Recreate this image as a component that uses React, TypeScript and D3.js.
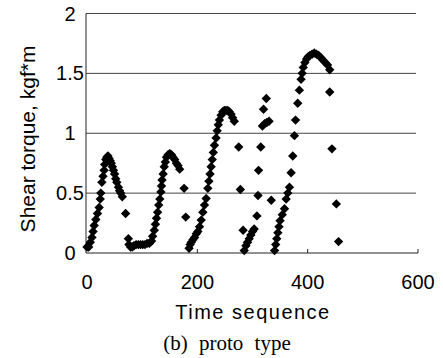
import React from 'react'
import { scaleLinear, symbol, symbolSquare } from 'd3'

// Shear torque samples (time index, kgf*m)
const time = [
  0, 3, 6, 9, 11, 13, 16, 19, 22, 24, 25, 27, 29, 31, 32, 34, 36, 38, 40, 42, 44, 46, 48, 50, 52, 54, 57, 59, 61, 64, 70,
  75, 76, 79, 82, 85, 89, 93, 97, 101, 105, 109, 113, 117,
  119, 122, 124, 126, 128, 130, 132, 134, 135, 136, 138, 140, 142, 144, 147, 150, 153, 156, 159, 162, 165, 168, 176, 179,
  185, 187, 189, 192, 195, 198, 201,
  204, 207, 210, 213, 216, 219, 221, 223, 225, 227, 229, 231, 234, 236, 238, 240, 243, 246, 249, 252, 255, 258, 261, 264, 267,
  275, 278, 283, 285, 288, 291, 294, 297, 300,
  303, 308, 310, 311, 315, 318, 322, 326, 330, 320, 325, 334,
  340, 342, 344, 346, 348, 350, 354, 358, 361, 364, 367, 370, 373, 376, 378, 382, 385, 388, 390, 392, 395, 398, 401, 404,
  408, 412, 416, 420, 424, 428, 432, 436, 440, 440, 444, 452, 456,
]
const torque = [
  0.05, 0.05, 0.09, 0.13, 0.18, 0.23, 0.28, 0.33, 0.38, 0.45, 0.5, 0.59, 0.64, 0.69, 0.74, 0.78, 0.8, 0.81, 0.79, 0.77, 0.75, 0.72, 0.69, 0.66, 0.62, 0.59, 0.55, 0.52, 0.5, 0.47, 0.33,
  0.12, 0.07, 0.05, 0.05, 0.06, 0.07, 0.07, 0.07, 0.07, 0.07, 0.08, 0.08, 0.1,
  0.14, 0.19, 0.24, 0.29, 0.34, 0.4, 0.45, 0.51, 0.56, 0.61, 0.66, 0.72, 0.76, 0.8, 0.82, 0.83, 0.82, 0.8, 0.78, 0.75, 0.73, 0.7, 0.54, 0.3,
  0.04, 0.07, 0.09, 0.11, 0.13, 0.16, 0.18,
  0.22, 0.275, 0.34, 0.4, 0.455, 0.54, 0.6, 0.66, 0.72, 0.78, 0.84, 0.9, 0.96, 1.02, 1.07, 1.11, 1.15, 1.18, 1.19, 1.19, 1.19, 1.18, 1.16, 1.13, 1.1,
  0.885, 0.53, 0.19, 0.02, 0.06, 0.09, 0.12, 0.15, 0.18,
  0.2, 0.31, 0.48, 0.69, 0.885, 1.06, 1.08, 1.09, 1.1, 1.2, 1.29, 0.44,
  0.02, 0.07, 0.12, 0.17, 0.22, 0.27, 0.32, 0.37, 0.45, 0.5, 0.55, 0.67, 0.81, 0.98, 1.11, 1.25, 1.36, 1.45, 1.5, 1.55, 1.59, 1.62, 1.64, 1.65,
  1.66, 1.67, 1.66, 1.65, 1.63, 1.61, 1.59, 1.57, 1.53, 1.345, 0.87, 0.41, 0.095,
]

const xTicks = [0, 200, 400, 600]
const yTicks = [0, 0.5, 1, 1.5, 2]
const yTickLabels = ['0', '0.5', '1', '1.5', '2']

const W = 443
const H = 358
const sans = '"Liberation Sans", Arial, sans-serif'

export default function App() {
  const x = scaleLinear().domain([0, 600]).range([87, 418])
  const y = scaleLinear().domain([0, 2]).range([253, 13.5])
  // square turned 45 degrees -> diamond marker
  const diamond = symbol(symbolSquare, 44)()

  return (
    <svg width={W} height={H} style={{ position: 'absolute', left: 0, top: 0, background: '#fff' }}>
      {/* grid */}
      {yTicks.slice(1).map(t => (
        <line key={t} x1={x(0) - 1} x2={x(600) - 2} y1={y(t)} y2={y(t)} stroke='#444' strokeWidth={1} />
      ))}
      {/* axes */}
      <line x1={x(0) - 1} x2={x(0) - 1} y1={y(2)} y2={y(0)} stroke='#222' strokeWidth={1} />
      <line x1={x(0) - 1} x2={x(600)} y1={y(0)} y2={y(0)} stroke='#222' strokeWidth={1} />
      {xTicks.slice(1).map(t => (
        <line key={t} x1={x(t)} x2={x(t)} y1={y(0)} y2={y(0) - 4} stroke='#222' strokeWidth={1} />
      ))}

      {/* points */}
      {time.map((t, i) => (
        <path key={i} d={diamond!} transform={`translate(${x(t)},${y(torque[i])}) rotate(45)`} fill='#000' />
      ))}

      {/* tick labels */}
      {xTicks.map(t => (
        <text key={t} x={x(t)} y={289} textAnchor='middle' fontFamily={sans} fontSize={20}>{t}</text>
      ))}
      {yTicks.map((t, i) => (
        <text key={t} x={70} y={y(t) + 7} textAnchor='middle' fontFamily={sans} fontSize={20}>{yTickLabels[i]}</text>
      ))}

      <text x={253} y={319} textAnchor='middle' fontFamily={sans} fontSize={20} letterSpacing={1.5}>Time sequence</text>
      <text transform='translate(35,139) rotate(-90)' textAnchor='middle' fontFamily={sans} fontSize={21}>Shear torque, kgf*m</text>
      <text x={227} y={350} textAnchor='middle' fontFamily='"Liberation Serif", "Times New Roman", serif' fontSize={21} wordSpacing={6}>(b) proto type</text>
    </svg>
  )
}
